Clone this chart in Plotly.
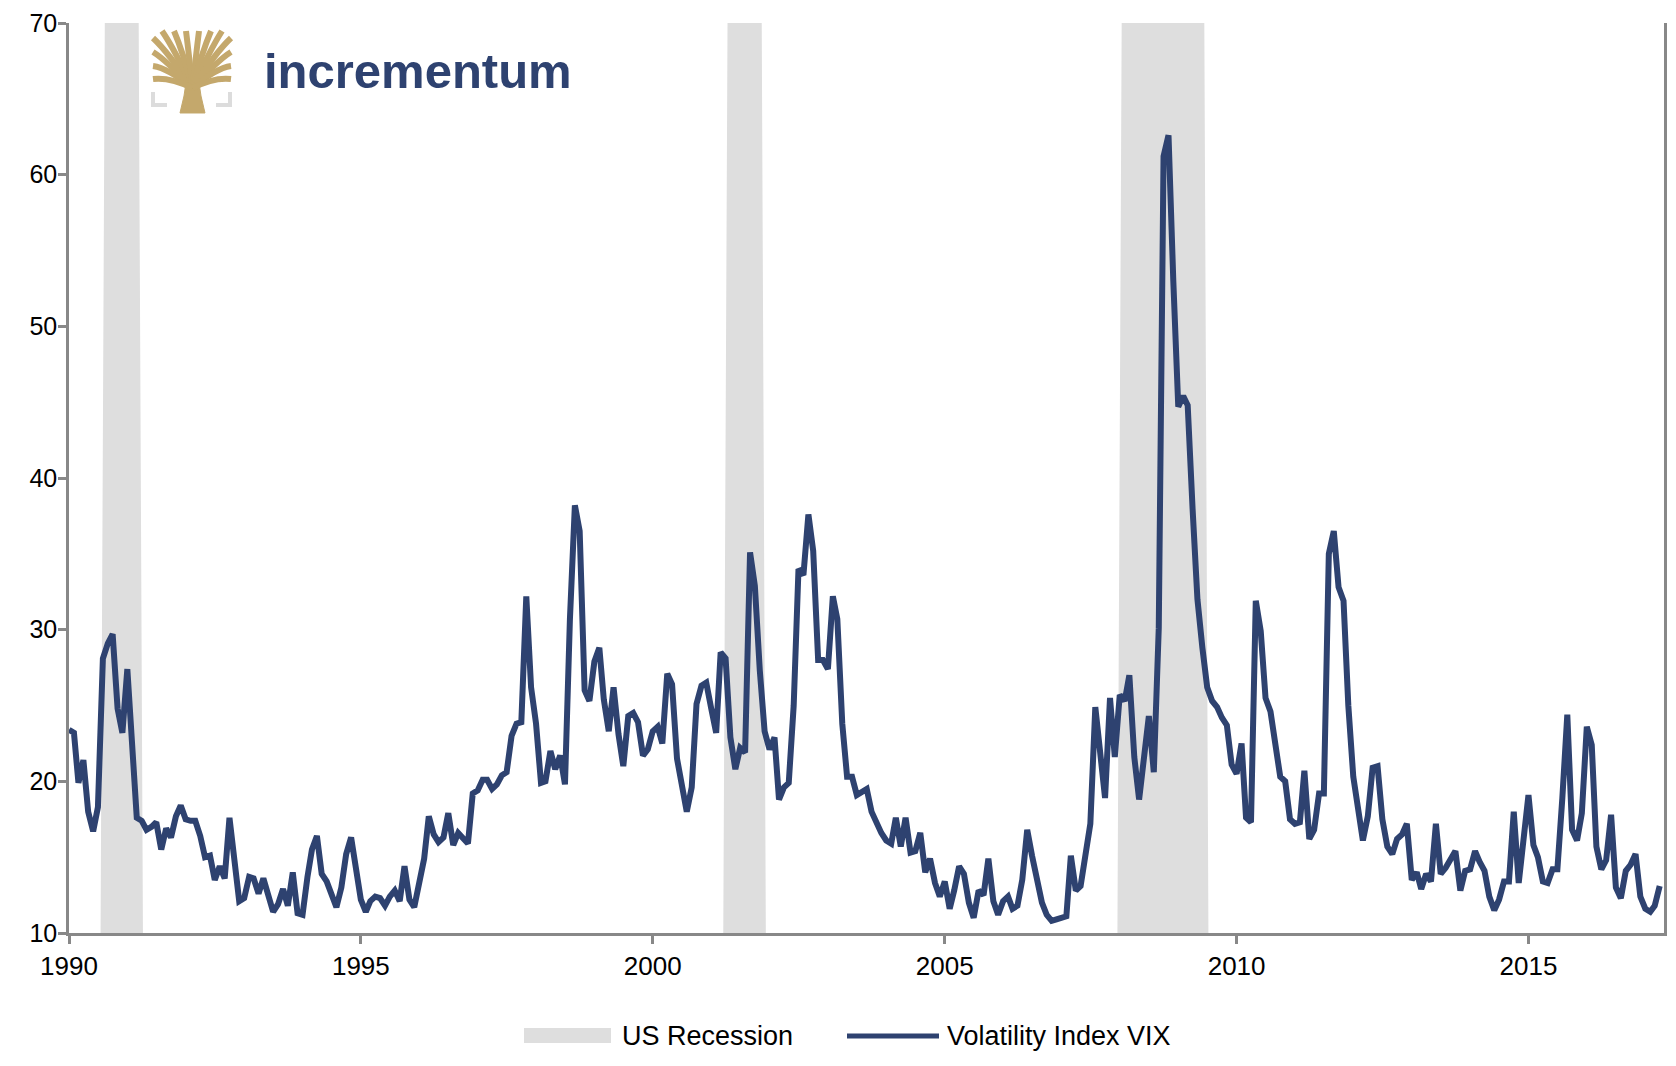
import pandas as pd
from plotly import graph_objs as go

# monthly VIX values, Jan 1990 .. Apr 2017
vix_1990 = [23.4, 23.2, 19.9, 21.4, 18.0, 16.7, 18.3, 28.1, 29.1, 29.7, 24.8, 23.2]
vix_1991 = [27.4, 21.5, 17.6, 17.4, 16.8, 17.0, 17.3, 15.5, 16.9, 16.3, 17.7, 18.4]
vix_1992 = [17.5, 17.4, 17.4, 16.4, 15.0, 15.1, 13.5, 14.4, 13.6, 17.6, 14.4, 12.1]
vix_1993 = [12.3, 13.7, 13.6, 12.6, 13.6, 12.4, 11.4, 11.9, 12.9, 11.8, 14.0, 11.3]
vix_1994 = [11.2, 13.7, 15.5, 16.4, 13.9, 13.4, 12.5, 11.7, 13.0, 15.2, 16.3, 14.0]
vix_1995 = [12.2, 11.4, 12.1, 12.4, 12.3, 11.8, 12.4, 12.8, 12.1, 14.4, 12.2, 11.7]
vix_1996 = [13.2, 14.9, 17.7, 16.5, 16.0, 16.3, 17.9, 15.8, 16.6, 16.2, 15.9, 19.2]
vix_1997 = [19.4, 20.1, 20.1, 19.5, 19.8, 20.4, 20.6, 23.0, 23.8, 23.9, 32.2, 26.2]
vix_1998 = [23.8, 19.9, 20.0, 22.0, 20.8, 21.7, 19.8, 30.7, 38.2, 36.5, 26.0, 25.3]
vix_1999 = [27.9, 28.8, 25.4, 23.3, 26.2, 23.1, 21.0, 24.3, 24.5, 23.9, 21.7, 22.1]
vix_2000 = [23.3, 23.6, 22.5, 27.1, 26.4, 21.5, 19.7, 18.0, 19.6, 25.1, 26.3, 26.5]
vix_2001 = [24.8, 23.2, 28.5, 28.1, 22.9, 20.8, 22.2, 21.9, 35.1, 32.9, 27.3, 23.3]
vix_2002 = [22.1, 22.9, 18.8, 19.6, 19.9, 25.0, 34.0, 33.6, 37.6, 35.2, 28.0, 28.0]
vix_2003 = [27.4, 32.2, 30.7, 23.8, 20.3, 20.3, 19.1, 19.3, 19.5, 18.0, 17.2, 16.6]
vix_2004 = [16.1, 15.9, 17.6, 15.7, 17.6, 15.3, 15.4, 16.6, 14.0, 14.9, 13.3, 12.4]
vix_2005 = [13.4, 11.6, 12.8, 14.4, 13.9, 12.0, 11.0, 12.8, 12.5, 14.9, 12.1, 11.2]
vix_2006 = [12.1, 12.4, 11.6, 11.8, 13.5, 16.8, 15.1, 13.3, 12.0, 11.2, 10.8, 10.9]
vix_2007 = [11.0, 11.1, 15.1, 12.8, 13.1, 15.0, 17.2, 24.9, 21.9, 18.9, 25.5, 21.6]
vix_2008 = [25.7, 25.3, 27.0, 21.6, 18.8, 21.8, 24.3, 20.6, 30.1, 61.2, 62.6, 53.0]
vix_2009 = [44.7, 45.4, 44.8, 37.9, 32.0, 28.8, 26.2, 25.3, 24.9, 24.2, 23.7, 21.1]
vix_2010 = [20.5, 22.5, 17.6, 17.3, 31.9, 29.9, 25.5, 24.6, 22.4, 20.3, 20.0, 17.5]
vix_2011 = [17.2, 17.3, 20.7, 16.2, 16.8, 19.2, 19.2, 35.0, 36.5, 32.8, 31.9, 25.0]
vix_2012 = [20.3, 18.2, 16.1, 17.7, 20.9, 21.0, 17.5, 15.7, 15.2, 16.2, 16.5, 17.2]
vix_2013 = [13.5, 14.0, 12.9, 13.9, 13.4, 17.2, 13.9, 14.3, 14.8, 15.4, 12.8, 14.1]
vix_2014 = [14.2, 15.4, 14.7, 14.1, 12.4, 11.5, 12.2, 13.4, 13.4, 18.0, 13.3, 16.5]
vix_2015 = [19.1, 15.8, 15.0, 13.4, 13.3, 14.2, 14.2, 18.9, 24.4, 16.8, 16.1, 17.9]
vix_2016 = [23.6, 22.4, 15.7, 14.2, 14.8, 17.8, 13.0, 12.3, 14.1, 14.5, 15.2, 12.4]
vix_2017 = [11.6, 11.4, 11.8, 13.1]

vix = (vix_1990 + vix_1991 + vix_1992 + vix_1993 + vix_1994 + vix_1995 + vix_1996
       + vix_1997 + vix_1998 + vix_1999 + vix_2000 + vix_2001 + vix_2002 + vix_2003
       + vix_2004 + vix_2005 + vix_2006 + vix_2007 + vix_2008 + vix_2009 + vix_2010
       + vix_2011 + vix_2012 + vix_2013 + vix_2014 + vix_2015 + vix_2016 + vix_2017)
dates = pd.date_range("1990-01-01", periods=len(vix), freq="MS")

# US recessions (NBER), first and last month
recessions = [("1990-08", "1991-03"), ("2001-04", "2001-11"), ("2008-01", "2009-06")]
rec_flag = [0] * len(dates)
for start, end in recessions:
    for i, d in enumerate(dates):
        if pd.Timestamp(start) <= d <= pd.Timestamp(end):
            rec_flag[i] = 70
rec_dates = dates + pd.Timedelta(days=12)

NAVY = "#2e4270"
GOLD = "#c4a86c"
AXIS = "#888888"
FONT = "Liberation Sans, Arial, sans-serif"

# plot area on screen: x 69..1664, y 23..933 (page has 8px body margin)
TOP, BOTTOM = 23, 933

def px(x):
    return (x - 69) / 1595

def py(y):
    return (BOTTOM - y) / (BOTTOM - TOP)

fig = go.Figure()
# recession bars
fig.add_trace(go.Scatter(x=rec_dates, y=rec_flag, mode="lines", fill="tozeroy",
    fillcolor="#dedede", line=dict(width=0, color="#dedede"),
    showlegend=False, hoverinfo="skip"))
# VIX
fig.add_trace(go.Scatter(x=dates, y=vix, mode="lines", name="Volatility Index VIX",
    line=dict(color=NAVY, width=6), showlegend=False))

shapes = []
# legend
shapes.append(dict(type="rect", xref="paper", yref="paper", x0=px(524), x1=px(611),
    y0=py(1028), y1=py(1043), fillcolor="#dedede", line=dict(width=0)))
shapes.append(dict(type="line", xref="paper", yref="paper", x0=px(847), x1=px(939),
    y0=py(1036), y1=py(1036), line=dict(color=NAVY, width=5)))

# logo: tree
trunk = "M%f,%f L%f,%f L%f,%f L%f,%f L%f,%f L%f,%f Z" % (
    px(180), py(113), px(205), py(113), px(201), py(96), px(198), py(76),
    px(187), py(76), px(184), py(96))
shapes.append(dict(type="path", xref="paper", yref="paper", path=trunk,
    fillcolor=GOLD, line=dict(color=GOLD, width=1)))
branches = [((153, 66), (168, 68)), ((153, 52), (166, 60)), ((153, 38), (168, 52)),
            ((162, 31), (175, 50)), ((174, 31), (183, 52)), ((186, 31), (189, 55)),
            ((199, 31), (196, 55)), ((211, 31), (202, 52)), ((222, 31), (210, 50)),
            ((231, 38), (216, 52)), ((231, 52), (218, 60)), ((231, 66), (216, 68)),
            ((153, 79), (170, 77)), ((231, 79), (214, 77))]
for (ex, ey), (cx, cy) in branches:
    p = "M%f,%f Q%f,%f %f,%f" % (px(192.5), py(88), px(cx), py(cy), px(ex), py(ey))
    shapes.append(dict(type="path", xref="paper", yref="paper", path=p,
        line=dict(color=GOLD, width=6)))
for bx, tx in [(153, 167), (230, 216)]:
    p = "M%f,%f L%f,%f L%f,%f" % (px(bx), py(92), px(bx), py(105), px(tx), py(105))
    shapes.append(dict(type="path", xref="paper", yref="paper", path=p,
        line=dict(color="#dcdcdc", width=4)))

annotations = [
    dict(text="US Recession", x=px(620), y=py(1036), xref="paper", yref="paper",
         xanchor="left", yanchor="middle", showarrow=False,
         font=dict(family=FONT, size=27, color="#000000")),
    dict(text="Volatility Index VIX", x=px(945), y=py(1036), xref="paper", yref="paper",
         xanchor="left", yanchor="middle", showarrow=False,
         font=dict(family=FONT, size=27, color="#000000")),
    dict(text="<b>incrementum</b>", x=px(262), y=py(71), xref="paper", yref="paper",
         xanchor="left", yanchor="middle", showarrow=False,
         font=dict(family=FONT, size=49, color=NAVY)),
]

# figure sits 8px in from the page corner, so size/margins compensate
fig.update_layout(
    width=1660, height=1050,
    margin=dict(l=61, r=4, t=TOP - 8, b=1050 - (BOTTOM - 8), autoexpand=False),
    paper_bgcolor="white", plot_bgcolor="white",
    font=dict(family=FONT, size=26, color="#000000"),
    shapes=shapes, annotations=annotations,
    showlegend=False,
)
fig.update_xaxes(type="date", range=["1990-01-01", "2017-04-28"],
    tick0="1990-01-01", dtick="M60", tickformat="%Y", automargin=False,
    showgrid=False, zeroline=False, showline=True, linecolor=AXIS, linewidth=2.5,
    ticks="outside", ticklen=8, tickwidth=2.5, tickcolor=AXIS,
    tickfont=dict(family=FONT, size=26, color="#000000"))
fig.update_yaxes(range=[10, 70], dtick=10, showgrid=False, zeroline=False,
    automargin=False,
    showline=True, mirror=True, linecolor=AXIS, linewidth=2.5,
    ticks="outside", ticklen=8, tickwidth=2.5, tickcolor=AXIS,
    ticklabeloverflow="allow", ticklabelstandoff=-4,
    tickfont=dict(family=FONT, size=25, color="#000000"))

fig.write_html("out.html")
